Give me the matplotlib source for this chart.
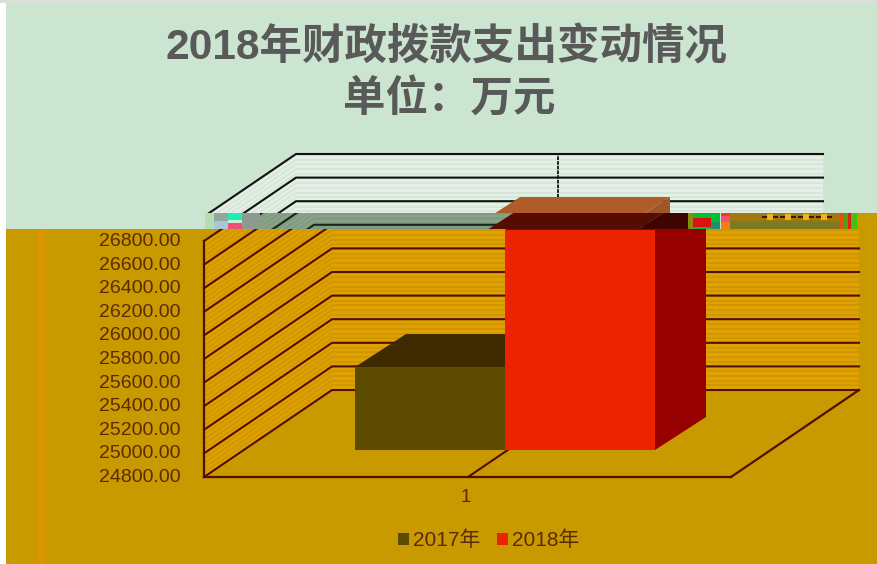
import numpy as np
import matplotlib
matplotlib.use("Agg")
import matplotlib.pyplot as plt
from matplotlib.patches import Rectangle
from matplotlib.transforms import ScaledTranslation

plt.rcParams['font.family'] = ['Liberation Sans', 'Noto Sans CJK SC', 'DejaVu Sans']

# Dados
series = ['2017年', '2018年']
values = [25503, 26664]
categories = ['1']
ticks = [24800, 25000, 25200, 25400, 25600, 25800, 26000, 26200, 26400, 26600, 26800]
title_lines = ['2018年财政拨款支出变动情况', '单位：万元']

W, H = 878, 564
TOP, BOTTOM = 241, 477   # pixel rows of 26800 and 24800
LEFT, RIGHT = 204, 859
U = (ticks[-1] - ticks[0]) / (BOTTOM - TOP)  # value units per pixel

# profundidade
wall_dx, wall_dy = 128, 87 * U
bar_dx, bar_dy = 51, 33 * U
floor_dy = 27 * U
bar_x = [355, 505]
bar_w = 150

lower = dict(base='#E0A200', stripe='#D29700', line='#500F00',
             front=['#5C4B00', '#EC2300'], top=['#3F2A00', '#3F2A00'], side=['#960000', '#960000'])
upper = dict(base='#E6F0E6', stripe='#D5E7D8', line='#111111',
             front=['#5C4B00', '#EC2300'], top=['#3F2A00', '#B05C28'], side=['#A0552A', '#A0552A'])
band = dict(base='#7F9A80', stripe='#8AA48A', line='#16261A',
            front=['#5C4B00', '#EC2300'], top=['#3F2A00', '#560C00'], side=['#3E0500', '#3E0500'])

fig = plt.figure(figsize=(W / 100, H / 100), dpi=100, facecolor='white')

bg = fig.add_axes([0, 0, 1, 1], zorder=0)
bg.set_xlim(0, W)
bg.set_ylim(H, 0)
bg.axis('off')
bg.add_patch(Rectangle((6, 3), W - 6, 226, color='#CBE5D0', lw=0))
bg.add_patch(Rectangle((0, 0), W, 3, color='#DADFDA', lw=0))
bg.add_patch(Rectangle((6, 229), W - 6, H - 229, color='#C89A00', lw=0))
bg.add_patch(Rectangle((38, 229), 7, H - 229, color='#DB9500', lw=0))

ax = fig.add_axes([LEFT / W, 1 - BOTTOM / H, (RIGHT - LEFT) / W, (BOTTOM - TOP) / H], zorder=1)
ax.patch.set_visible(False)
for s in ax.spines.values():
    s.set_visible(False)
ax.set_xlim(LEFT, RIGHT)
ax.set_ylim(ticks[0], ticks[-1])
ax.autoscale(False)


def draw_scene(shift, pal, clip):
    items = []
    y0, y1 = ticks[0], ticks[-1]
    xb = LEFT + wall_dx + shift
    xl = LEFT + shift
    xr = RIGHT + shift

    # paredes
    items += ax.fill([xb, xr, xr, xb], [y0 + wall_dy, y0 + wall_dy, y1 + wall_dy, y1 + wall_dy],
                     color=pal['base'], lw=0, zorder=1)
    items += ax.fill([xl, xb, xb, xl], [y0, y0 + wall_dy, y1 + wall_dy, y1],
                     color=pal['base'], lw=0, zorder=1)
    for v in np.arange(y0, y1, 4.7 * U):
        items += ax.plot([xb, xr], [v + wall_dy, v + wall_dy], color=pal['stripe'], lw=1.5, zorder=1.5)
        items += ax.plot([xl, xb], [v, v + wall_dy], color=pal['stripe'], lw=1.5, zorder=1.5)

    # grade
    for v in ticks:
        items += ax.plot([xl, xb, xr], [v, v + wall_dy, v + wall_dy], color=pal['line'], lw=1.5, zorder=2)
    items += ax.plot([xl, xl], [y0, y1], color=pal['line'], lw=1.6, zorder=2)
    items += ax.plot([xl, xr - wall_dx], [y0, y0], color=pal['line'], lw=1.6, zorder=2)
    items += ax.plot([xr - wall_dx, xr], [y0, y0 + wall_dy], color=pal['line'], lw=1.6, zorder=2)
    items += ax.plot([468 + shift, 468 + shift + wall_dx], [y0, y0 + wall_dy], color=pal['line'], lw=1.5, zorder=2)
    items += ax.plot([594 + shift, 594 + shift], [y0 + wall_dy, y1 + wall_dy], color=pal['line'], lw=1.3,
                     ls=(0, (2, 0.6)), zorder=2)

    # barras 3D
    handles = []
    for i, val in enumerate(values):
        x = bar_x[i] + shift
        base = y0 + floor_dy
        top = val + floor_dy
        z = 3 + i
        cont = ax.bar(x, top - base, width=bar_w, bottom=base, align='edge', color=pal['front'][i],
                      label=series[i], zorder=z + 0.2)
        items += list(cont.patches)
        handles.append(cont)
        items += ax.fill([x + bar_w, x + bar_w + bar_dx, x + bar_w + bar_dx, x + bar_w],
                         [base, base + bar_dy, top + bar_dy, top], color=pal['side'][i], lw=0, zorder=z)
        items += ax.fill([x, x + bar_w, x + bar_w + bar_dx, x + bar_dx],
                         [top, top, top + bar_dy, top + bar_dy], color=pal['top'][i], lw=0, zorder=z + 0.1)

    for a in items:
        a.set_clip_path(clip)
    return handles


clip_low = Rectangle((6, 229), W - 6, H - 229, transform=bg.transData)
clip_up = Rectangle((6, 3), W - 6, 210, transform=bg.transData)
clip_band = Rectangle((242, 213), 446, 16, transform=bg.transData)

draw_scene(-36, upper, clip_up)
draw_scene(-18, band, clip_band)
bars = draw_scene(0, lower, clip_low)

ax.set_yticks(ticks)
ax.set_yticklabels(['{:.2f}'.format(t) for t in ticks], fontsize=14, color='#5C2A00')
ax.set_xticks([466])
ax.set_xticklabels(categories, fontsize=13.5, color='#5C2A00')
ax.tick_params(axis='y', length=0, pad=17)
ax.tick_params(axis='x', length=0, pad=9)
up_1px = ScaledTranslation(0, 1.5 / 100, fig.dpi_scale_trans)
for lab in ax.get_yticklabels():
    lab.set_transform(lab.get_transform() + up_1px)

leg = ax.legend(handles=bars, loc='center', bbox_to_anchor=(488.5, 540.5), bbox_transform=bg.transData, ncol=2,
                frameon=False, fontsize=15, handlelength=0.53, handleheight=0.53, handletextpad=0.2,
                columnspacing=0.77, borderpad=0, labelcolor='#5C2A00')

# faixa corrompida da imagem
fx = fig.add_axes([0, 0, 1, 1], zorder=2)
fx.set_xlim(0, W)
fx.set_ylim(H, 0)
fx.axis('off')
glitch = [
    (205, 213, 9, 16, '#B4DDB0'), (214, 213, 14, 8, '#90A8A0'), (214, 221, 14, 8, '#A8C8D8'),
    (228, 213, 14, 7, '#18F0B8'), (228, 220, 14, 3, '#C8F0D0'), (228, 223, 14, 6, '#F05078'),
    (242, 213, 18, 16, '#8E9A90'),
    (688, 213, 5, 16, '#8A8A10'), (693, 213, 27, 16, '#00C030'), (693, 218, 18, 9, '#E01010'),
    (711, 222, 9, 7, '#209070'), (721, 213, 9, 3, '#F04010'), (721, 216, 9, 6, '#F05078'),
    (721, 222, 9, 7, '#F08010'), (730, 213, 110, 8, '#A07A10'), (730, 221, 110, 8, '#7F7A20'),
    (840, 213, 4, 16, '#E05010'), (844, 213, 4, 16, '#50A010'), (848, 213, 3, 16, '#E02010'),
    (851, 213, 6, 16, '#40C010'), (857, 213, W - 857, 16, '#C89A00'),
]
for x, y, w, h, c in glitch:
    fx.add_patch(Rectangle((x, y), w, h, color=c, lw=0))
for x in [770, 788, 806, 824]:
    fx.add_patch(Rectangle((x - 8, 216), 16, 2, color='#3A1A00', lw=0))
    fx.add_patch(Rectangle((x - 3, 214), 6, 6, color='#F0B020', lw=0))

fx.text(447, 48, title_lines[0], ha='center', va='center', fontsize=30.6, fontweight='bold', color='#595959')
fx.text(449, 100, title_lines[1], ha='center', va='center', fontsize=30.6, fontweight='bold', color='#595959')

fig.savefig('out.png', dpi=100, facecolor='white')
